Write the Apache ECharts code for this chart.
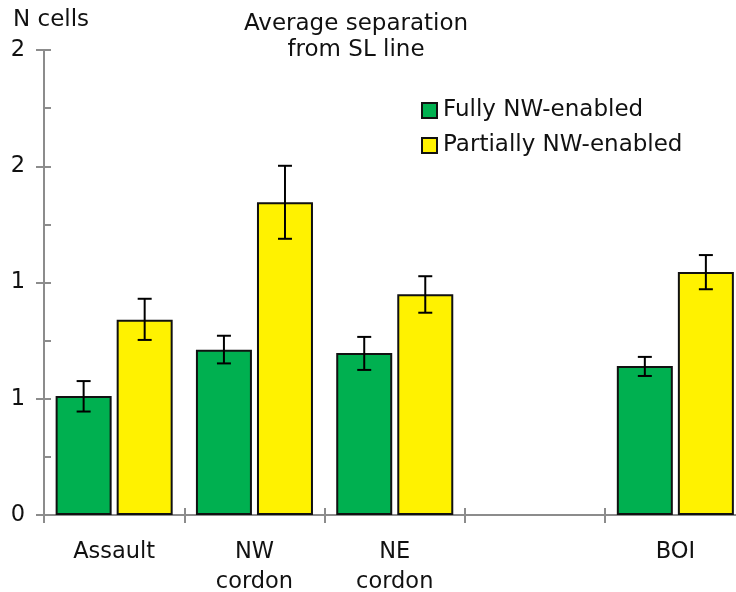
<!DOCTYPE html>
<html>
<head>
<meta charset="utf-8">
<script src="https://cdn.jsdelivr.net/npm/echarts@6/dist/echarts.min.js"></script>
<style>html,body{margin:0;padding:0;background:#fff}#c{width:736px;height:592px}</style>
</head>
<body>
<div id="c"></div>
<script>
var categories = ['Assault', 'NW\ncordon', 'NE\ncordon', '', 'BOI'];
var fullyValues = [0.512, 0.711, 0.697, null, 0.641];
var fullyLow = [0.445, 0.652, 0.624, null, 0.598];
var fullyHigh = [0.576, 0.771, 0.766, null, 0.680];
var partialValues = [0.840, 1.345, 0.949, null, 1.045];
var partialLow = [0.753, 1.188, 0.870, null, 0.971];
var partialHigh = [0.930, 1.502, 1.027, null, 1.118];
var yTicks = [0, 0.5, 1, 1.5, 2];

var FONT = 'DejaVu Sans';
var FS = 22.5;
var BAR_W = 56;
var BAR_GAP = 0.09;
var OFF = (BAR_W + BAR_W * BAR_GAP) / 2;

function errData(low, high) {
  var out = [];
  for (var i = 0; i < low.length; i++) {
    if (low[i] != null) out.push([i, low[i], high[i]]);
  }
  return out;
}
function errSeries(low, high, side) {
  return {
    type: 'custom',
    data: errData(low, high),
    z: 10,
    silent: true,
    renderItem: function (params, api) {
      var i = api.value(0);
      var lo = api.coord([i, api.value(1)]);
      var hi = api.coord([i, api.value(2)]);
      var x = lo[0] + side * OFF;
      var cap = 7;
      var st = { stroke: '#000', lineWidth: 2 };
      return {
        type: 'group',
        children: [
          { type: 'line', shape: { x1: x, y1: lo[1], x2: x, y2: hi[1] }, style: st },
          { type: 'line', shape: { x1: x - cap, y1: lo[1], x2: x + cap, y2: lo[1] }, style: st },
          { type: 'line', shape: { x1: x - cap, y1: hi[1], x2: x + cap, y2: hi[1] }, style: st }
        ]
      };
    }
  };
}

var chart = echarts.init(document.getElementById('c'));
var axisGray = '#8c8c8c';
chart.setOption({
  animation: false,
  textStyle: { fontFamily: FONT },
  title: [
    { text: 'Average separation\nfrom SL line', left: 351, top: 6, textAlign: 'center',
      textStyle: { fontFamily: FONT, fontSize: 23, fontWeight: 'normal', color: '#111', lineHeight: 26 } },
    { text: 'N cells', left: 8, top: 4,
      textStyle: { fontFamily: FONT, fontSize: 23, fontWeight: 'normal', color: '#111' } }
  ],
  legend: {
    orient: 'vertical', left: 421, top: 99, padding: 0,
    itemWidth: 15, itemHeight: 15, itemGap: 12,
    icon: 'rect',
    textStyle: { fontFamily: FONT, fontSize: 23, color: '#111', padding: [0, 0, 0, 1] },
    data: ['Fully NW-enabled', 'Partially NW-enabled']
  },
  grid: { left: 44, width: 701.5, top: 50, height: 465, outerBoundsMode: 'none', containLabel: false },
  xAxis: [
    { type: 'category', data: categories,
      axisLine: { lineStyle: { color: axisGray, width: 2 } },
      axisTick: { show: true, length: 8, lineStyle: { color: axisGray, width: 2 } },
      axisLabel: { fontFamily: FONT, fontSize: FS, color: '#111', margin: 22, lineHeight: 30, interval: 0 } },
    { type: 'category', data: categories, position: 'bottom',
      axisLine: { show: false },
      axisTick: { show: true, inside: true, length: 7, lineStyle: { color: axisGray, width: 2 } },
      axisLabel: { show: false } }
  ],
  yAxis: [
    { type: 'value', min: 0, max: 2, interval: 0.5,
      axisLine: { show: true, lineStyle: { color: axisGray, width: 2 } },
      axisTick: { show: true, length: 8, lineStyle: { color: axisGray, width: 2 } },
      splitLine: { show: false },
      axisLabel: { fontFamily: FONT, fontSize: FS, color: '#111', margin: 19,
        formatter: function (v) { return String(Math.round(v)); } } },
    { type: 'value', min: 0, max: 2, interval: 0.5, position: 'left',
      axisLine: { show: false },
      axisTick: { show: true, inside: true, length: 7, lineStyle: { color: axisGray, width: 2 } },
      minorTick: { show: true, splitNumber: 2, length: 7, lineStyle: { color: axisGray, width: 2 } },
      splitLine: { show: false },
      axisLabel: { show: false } }
  ],
  series: [
    { name: 'Fully NW-enabled', type: 'bar', data: fullyValues, barWidth: BAR_W, barGap: (BAR_GAP * 100) + '%',
      itemStyle: { color: '#00B050', borderColor: '#111', borderWidth: 2 } },
    { name: 'Partially NW-enabled', type: 'bar', data: partialValues, barWidth: BAR_W,
      itemStyle: { color: '#FFF200', borderColor: '#111', borderWidth: 2 } },
    errSeries(fullyLow, fullyHigh, -1),
    errSeries(partialLow, partialHigh, 1)
  ]
});
</script>
</body>
</html>
